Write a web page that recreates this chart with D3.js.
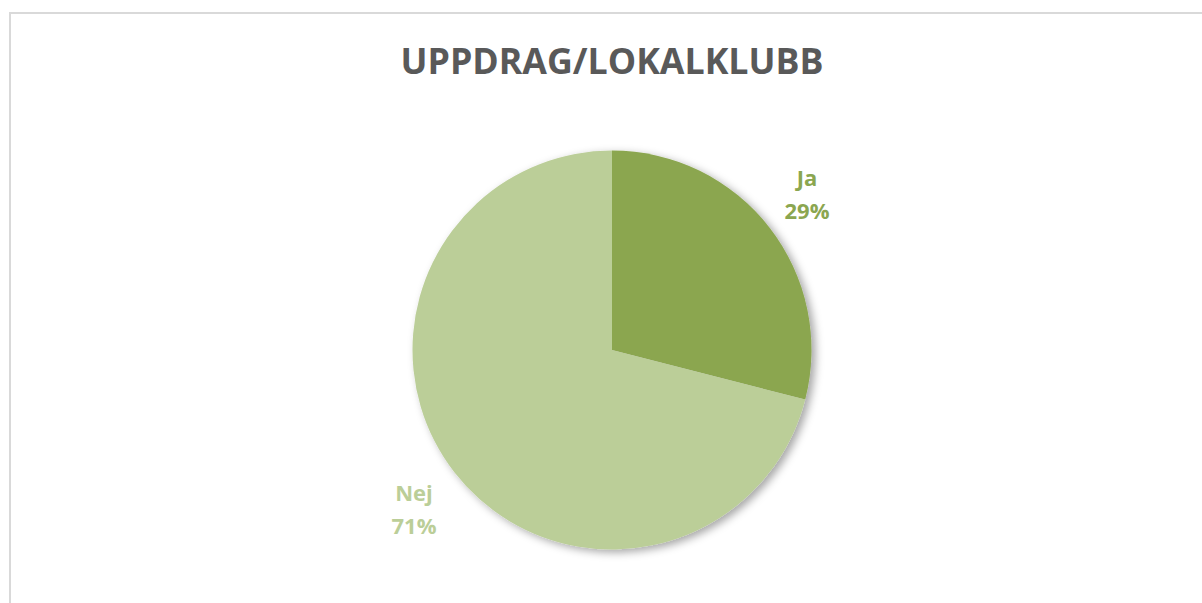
<!DOCTYPE html>
<html><head><meta charset="utf-8">
<script src="https://cdn.jsdelivr.net/npm/d3@7"></script>
<style>html,body{margin:0;padding:0;background:#fff;overflow:hidden}</style>
</head><body>
<script>
const title = "UPPDRAG/LOKALKLUBB";
const categories = ["Ja", "Nej"];
const values = [29, 71];
const colors = ["#8ba650", "#bbce98"];

const W = 1202, H = 603;
const svg = d3.select("body").append("svg").attr("width", W).attr("height", H);
const defs = svg.append("defs");
const f = defs.append("filter").attr("id","sh").attr("x","-20%").attr("y","-20%").attr("width","140%").attr("height","140%");
f.append("feDropShadow").attr("dx",4).attr("dy",3).attr("stdDeviation",4).attr("flood-color","#000").attr("flood-opacity",0.35);

svg.append("rect").attr("x",10).attr("y",13).attr("width",W).attr("height",H)
  .attr("fill","#fff").attr("stroke","#d9d9d9").attr("stroke-width",2);

svg.append("text").attr("x",612).attr("y",74).attr("text-anchor","middle")
  .attr("font-family","'Open Sans', sans-serif").attr("font-weight","bold")
  .attr("font-size",35).attr("fill","#595959").attr("textLength",423).attr("lengthAdjust","spacingAndGlyphs").text(title);

const cx = 612, cy = 350, r = 199.5;
const pie = d3.pie().sort(null).value(d => d)(values);
const arc = d3.arc().innerRadius(0).outerRadius(r);
const g = svg.append("g").attr("transform", `translate(${cx},${cy})`);
g.append("g").attr("filter","url(#sh)").selectAll("path").data(pie).join("path")
  .attr("d", arc).attr("fill", (d,i) => colors[i]);

const lp = [[807,178],[414,493]];
categories.forEach((c,i) => {
  const t = svg.append("text").attr("text-anchor","middle")
    .attr("font-family","'Open Sans', sans-serif").attr("font-weight","bold")
    .attr("font-size",22).attr("fill",colors[i]);
  t.append("tspan").attr("x",lp[i][0]).attr("y",lp[i][1]+8).text(c);
  t.append("tspan").attr("x",lp[i][0]).attr("y",lp[i][1]+41).text(values[i]+"%");
});
</script>
</body></html>
